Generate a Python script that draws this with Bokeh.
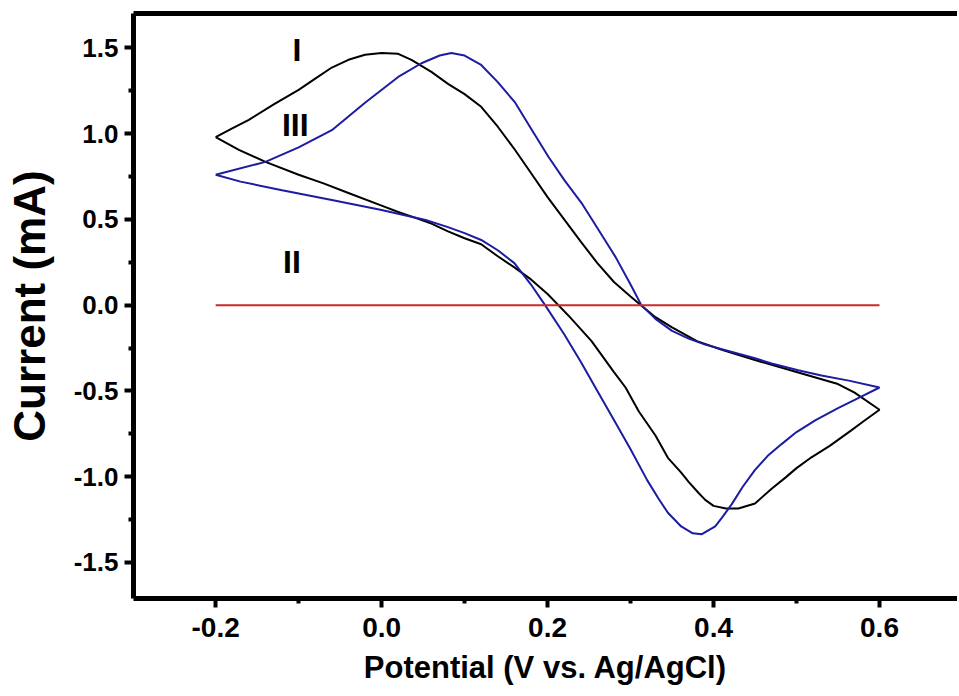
from bokeh.plotting import figure
from bokeh.models import Range1d, LinearAxis, FixedTicker, CustomJSTickFormatter
from bokeh.core.properties import value
from bokeh.embed import file_html
from bokeh.resources import INLINE

# ---- data ----
# Curve I (black): forward scan then reverse scan
i_fwd_x = [-0.2, -0.18, -0.16, -0.13, -0.10, -0.08, -0.06, -0.04, -0.02, 0.0, 0.02, 0.036, 0.06, 0.08, 0.10,
           0.12, 0.14, 0.16, 0.18, 0.20, 0.22, 0.24, 0.26, 0.28, 0.30, 0.31, 0.33, 0.35, 0.38, 0.41, 0.45,
           0.50, 0.55, 0.57, 0.60]
i_fwd_y = [0.98, 1.03, 1.08, 1.17, 1.255, 1.32, 1.385, 1.43, 1.46, 1.47, 1.465, 1.43, 1.36, 1.29, 1.23,
           1.156, 1.04, 0.91, 0.77, 0.63, 0.50, 0.37, 0.245, 0.135, 0.05, 0.01, -0.07, -0.13, -0.21, -0.26, -0.32,
           -0.39, -0.46, -0.51, -0.61]
i_rev_x = [0.60, 0.58, 0.566, 0.54, 0.518, 0.50, 0.487, 0.47, 0.45, 0.43, 0.415, 0.40, 0.39, 0.382, 0.37,
           0.36, 0.345, 0.33, 0.31, 0.294, 0.28, 0.265, 0.253, 0.24, 0.225, 0.213, 0.20, 0.18, 0.16, 0.14,
           0.12, 0.10, 0.08, 0.06, 0.04, 0.02, 0.0, -0.04, -0.07, -0.10, -0.14, -0.172, -0.2]
i_rev_y = [-0.61, -0.68, -0.73, -0.82, -0.887, -0.95, -1.004, -1.07, -1.156, -1.185, -1.185, -1.17, -1.135,
           -1.095, -1.03, -0.97, -0.89, -0.76, -0.62, -0.48, -0.39, -0.29, -0.21, -0.14, -0.06, 0.0, 0.065,
           0.15, 0.22, 0.285, 0.355, 0.39, 0.43, 0.475, 0.51, 0.543, 0.58, 0.654, 0.71, 0.76, 0.835, 0.905, 0.98]

# Curve III (blue)
iii_fwd_x = [-0.2, -0.14, -0.10, -0.06, -0.02, 0.02, 0.048, 0.07, 0.084, 0.10, 0.12, 0.14, 0.161, 0.18,
             0.201, 0.22, 0.241, 0.26, 0.282, 0.30, 0.313, 0.33, 0.35, 0.37, 0.39, 0.42, 0.45, 0.47, 0.502,
             0.53, 0.563, 0.60]
iii_fwd_y = [0.76, 0.835, 0.92, 1.02, 1.18, 1.33, 1.41, 1.455, 1.47, 1.455, 1.40, 1.30, 1.18, 1.03,
             0.865, 0.73, 0.595, 0.45, 0.28, 0.12, 0.0, -0.08, -0.15, -0.195, -0.23, -0.27, -0.31, -0.34, -0.38,
             -0.41, -0.44, -0.48]
iii_rev_x = [0.60, 0.575, 0.55, 0.523, 0.50, 0.482, 0.465, 0.45, 0.435, 0.422, 0.41, 0.402, 0.386, 0.375,
             0.361, 0.345, 0.334, 0.32, 0.30, 0.28, 0.26, 0.24, 0.22, 0.197, 0.18, 0.16, 0.14, 0.12, 0.10,
             0.08, 0.053, 0.0, -0.06, -0.12, -0.17, -0.2]
iii_rev_y = [-0.48, -0.54, -0.60, -0.67, -0.74, -0.81, -0.88, -0.96, -1.06, -1.16, -1.24, -1.29, -1.335, -1.33,
             -1.29, -1.21, -1.13, -1.02, -0.84, -0.67, -0.50, -0.33, -0.17, 0.0, 0.12, 0.245, 0.32, 0.38, 0.42,
             0.455, 0.496, 0.555, 0.613, 0.67, 0.72, 0.76]

# Curve II (red): flat at zero
ii_x = [-0.2, 0.6]
ii_y = [0.0, 0.0]

curve_labels = ["I", "III", "II"]
curve_label_x = [-0.102, -0.104, -0.108]
curve_label_y = [1.49, 1.05, 0.25]

x_ticks = [-0.2, 0.0, 0.2, 0.4, 0.6]
x_minor = [-0.3, -0.1, 0.1, 0.3, 0.5]
y_ticks = [-1.5, -1.0, -0.5, 0.0, 0.5, 1.0, 1.5]
y_minor = [-1.25, -0.75, -0.25, 0.25, 0.75, 1.25]

FONT = "Liberation Sans"

p = figure(frame_width=824, frame_height=585,
           x_range=Range1d(-0.299, 0.694), y_range=Range1d(-1.71, 1.70),
           output_backend="svg", toolbar_location=None,
           min_border_left=133, min_border_right=0, min_border_top=13, min_border_bottom=90)

p.outline_line_color = None
p.background_fill_color = "white"
p.border_fill_color = "white"
p.xgrid.visible = False
p.ygrid.visible = False

p.line(i_fwd_x + i_rev_x, i_fwd_y + i_rev_y, line_color="black", line_width=2)
p.line(iii_fwd_x + iii_rev_x, iii_fwd_y + iii_rev_y, line_color="#1c1ca0", line_width=2)
p.line(ii_x, ii_y, line_color="#cc2a2a", line_width=2)

p.text(curve_label_x, curve_label_y, text=curve_labels, text_align="center", text_baseline="middle",
       text_font=value(FONT), text_font_style="bold", text_font_size="32px", text_color="black")

fmt = "return tick.toFixed(1);"
for ax, ticks, minor in ((p.xaxis[0], x_ticks, x_minor), (p.yaxis[0], y_ticks, y_minor)):
    ax.ticker = FixedTicker(ticks=ticks, minor_ticks=minor)
    ax.formatter = CustomJSTickFormatter(code=fmt)
    ax.axis_line_width = 5
    ax.axis_line_color = "black"
    ax.major_tick_line_width = 4
    ax.minor_tick_line_width = 4
    ax.major_tick_out = 9
    ax.major_tick_in = 0
    ax.minor_tick_out = 5
    ax.minor_tick_in = 0
    ax.major_label_text_font = FONT
    ax.major_label_text_font_style = "bold"
    ax.major_label_text_color = "black"
    ax.axis_label_text_font = FONT
    ax.axis_label_text_font_style = "bold"
    ax.axis_label_text_color = "black"

p.xaxis[0].major_label_text_font_size = "28px"
p.yaxis[0].major_label_text_font_size = "26px"
p.xaxis[0].axis_label = "Potential (V vs. Ag/AgCl)"
p.xaxis[0].axis_label_text_font_size = "31px"
p.yaxis[0].axis_label = "Current (mA)"
p.yaxis[0].axis_label_text_font_size = "44px"
p.xaxis[0].major_label_standoff = 10
p.xaxis[0].axis_label_standoff = 10
p.yaxis[0].major_label_standoff = 6
p.yaxis[0].axis_label_standoff = 17

top = LinearAxis(ticker=FixedTicker(ticks=[]), axis_line_width=5, axis_line_color="black",
                 major_label_text_font_size="0px", major_tick_line_color=None, minor_tick_line_color=None)
p.add_layout(top, "above")

open("out.html", "w").write(file_html(p, INLINE))
